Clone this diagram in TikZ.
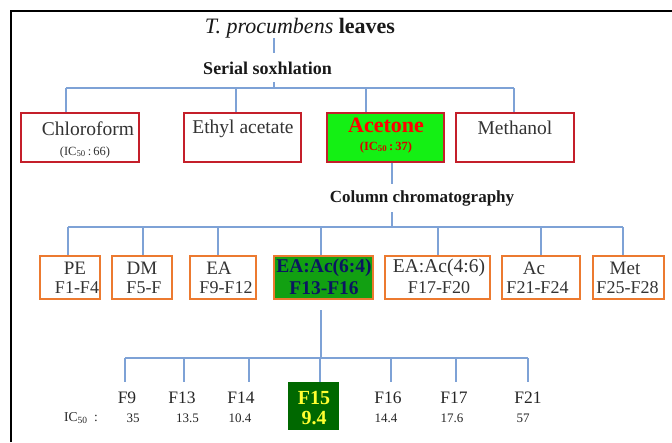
\documentclass[tikz,border=0pt]{standalone}
\usepackage{fontspec}
\setmainfont{Liberation Serif}
\definecolor{lineblue}{HTML}{7EA2D6}
\definecolor{boxred}{HTML}{C41F2A}
\definecolor{boxorange}{HTML}{EC7A30}
\definecolor{brightgreen}{HTML}{14F014}
\definecolor{midgreen}{HTML}{12A012}
\definecolor{darkgreen}{HTML}{006800}
\definecolor{navytext}{HTML}{0B1660}
\definecolor{txtgray}{HTML}{333333}
\definecolor{ylw}{HTML}{FFFF30}
\newcommand{\fs}[1]{\fontsize{#1}{#1}\selectfont}
\begin{document}
\begin{tikzpicture}[x=1pt,y=-1pt,
  redbox/.style={draw=boxred, line width=1.8, minimum height=49, inner sep=0, fill=white},
  orbox/.style={draw=boxorange, line width=1.8, minimum height=43, inner sep=0, fill=white},
  conn/.style={draw=lineblue, line width=1.3},
  lbl/.style={inner sep=0, text=txtgray},
  hdr/.style={inner sep=0, text=black!90}]
\useasboundingbox (0,0) rectangle (672,442);
\fill[white] (0,0) rectangle (672,442);
% frame
\draw[line width=2.2] (11,442) -- (11,11) -- (672,11);

% title
\node[hdr, font=\fs{22}] (title) at (300,28) {\textit{T. procumbens} \textbf{leaves}};
\coordinate (ta) at (274,38);
\coordinate (tb) at (274,53);
\draw[conn] (ta) -- (tb);
\node[hdr, font=\fs{18}\bfseries] (ser) at (267.5,68) {Serial soxhlation};

% row 1 boxes
\node[redbox, minimum width=118] (chl) at (80,137.5) {};
\node[redbox, minimum width=117] (eth) at (242.5,137.5) {};
\node[redbox, minimum width=117, fill=brightgreen] (ace) at (385.5,137.5) {};
\node[redbox, minimum width=118] (met) at (515,137.5) {};
\node[lbl, font=\fs{19.5}] (chlT) at (88,129) {Chloroform};
\node[lbl, font=\fs{12.5}] (chlIC) at (85,152) {(IC\textsubscript{50}\,:\,66)};
\node[lbl, font=\fs{19.5}] (ethT) at (243,129) {Ethyl acetate};
\node[inner sep=0, text=red, font=\fs{22}\bfseries] (aceT) at (386,125) {Acetone};
\node[inner sep=0, text=red!85!black, font=\fs{12.5}\bfseries] (aceIC) at (386,147) {(IC\textsubscript{50}\,:\,37)};
\node[lbl, font=\fs{19.5}] (metT) at (515,128) {Methanol};

% row 1 connectors
\coordinate (sb) at (274,82);
\coordinate (h1L) at (66,88);
\coordinate (h1R) at (514,88);
\coordinate (v12) at (236,88);
\coordinate (v13) at (366,88);
\draw[conn] (sb) -- (sb |- h1L);
\draw[conn] (h1L) -- (h1R);
\draw[conn] (h1L) -- (h1L |- chl.north);
\draw[conn] (v12) -- (v12 |- eth.north);
\draw[conn] (v13) -- (v13 |- ace.north);
\draw[conn] (h1R) -- (h1R |- met.north);

% acetone to column chromatography
\coordinate (ad) at (392,184);
\draw[conn] (ad |- ace.south) -- (ad);
\node[hdr, font=\fs{17}\bfseries] (col) at (422,198) {Column chromatography};
\coordinate (cc) at (392,212);
\coordinate (h2L) at (68,227);
\coordinate (h2R) at (623,227);
\draw[conn] (cc) -- (cc |- h2L);
\draw[conn] (h2L) -- (h2R);

% row 2 boxes
\node[orbox, minimum width=60] (pe) at (70,277.5) {};
\node[orbox, minimum width=60] (dm) at (142,277.5) {};
\node[orbox, minimum width=66] (ea) at (223,277.5) {};
\node[orbox, minimum width=99, fill=midgreen] (e64) at (323.5,277.5) {};
\node[orbox, minimum width=105] (e46) at (437.5,277.5) {};
\node[orbox, minimum width=78] (ac) at (541,277.5) {};
\node[orbox, minimum width=71] (mt) at (628.5,277.5) {};

\node[lbl, font=\fs{19}] at (75,268) {PE};
\node[lbl, font=\fs{18}] at (77,288) {F1-F4};
\node[lbl, font=\fs{19}] at (142,268) {DM};
\node[lbl, font=\fs{18}] at (144,288) {F5-F};
\node[lbl, font=\fs{19}] at (219,268) {EA};
\node[lbl, font=\fs{18}] at (226,288) {F9-F12};
\node[inner sep=0, text=navytext, font=\fs{19.5}\bfseries] at (324,268) {EA:Ac(6:4)};
\node[inner sep=0, text=navytext, font=\fs{19.5}\bfseries] at (324,288) {F13-F16};
\node[lbl, font=\fs{19.5}] at (439,268) {EA:Ac(4:6)};
\node[lbl, font=\fs{18}] at (439,288) {F17-F20};
\node[lbl, font=\fs{19}] at (534,268) {Ac};
\node[lbl, font=\fs{18}] at (537.5,288) {F21-F24};
\node[lbl, font=\fs{19}] at (625,268) {Met};
\node[lbl, font=\fs{18}] at (627.5,288) {F25-F28};

% row 2 connectors
\foreach \xx/\nm in {68/pe,143/dm,218/ea,321/e64,438/e46,541/ac,623/mt}{
  \coordinate (t\nm) at (\xx,227);
  \draw[conn] (t\nm) -- (t\nm |- \nm.north);
}

% row 3
\coordinate (d1) at (321,310);
\coordinate (h3L) at (125,358);
\coordinate (h3R) at (528,358);
\draw[conn] (d1) -- (d1 |- h3L);
\draw[conn] (h3L) -- (h3R);
\node[inner sep=0, fill=darkgreen, minimum width=51, minimum height=48] (f15) at (313.5,406) {};
\node[inner sep=0, text=ylw, font=\fs{20}\bfseries] (f15T) at (314,398) {F15};
\node[inner sep=0, text=ylw, font=\fs{20}\bfseries] (f15V) at (314,418) {9.4};

\foreach \xx/\nm/\lx/\vx/\val in {125/f9/127/133/35, 184/f13/182/187.5/13.5, 249/f14/241/240/10.4, 391/f16/388/386/14.4, 456/f17/454/452/17.6, 528/f21/528/523/57}{
  \node[lbl, text=black!85, font=\fs{17.5}] (\nm) at (\lx,398) {\MakeUppercase{\nm}};
  \node[lbl, text=black!85, font=\fs{13}] (\nm v) at (\vx,418) {\val};
  \coordinate (u\nm) at (\xx,358);
  \coordinate (w\nm) at (\xx,382);
  \draw[conn] (u\nm) -- (w\nm);
}
\coordinate (uf15) at (320,358);
\draw[conn] (uf15) -- (uf15 |- f15.north);
\node[lbl, text=black!85, font=\fs{13.5}] (icl) at (81,418) {IC\textsubscript{50}\ \ :};
\end{tikzpicture}
\end{document}
